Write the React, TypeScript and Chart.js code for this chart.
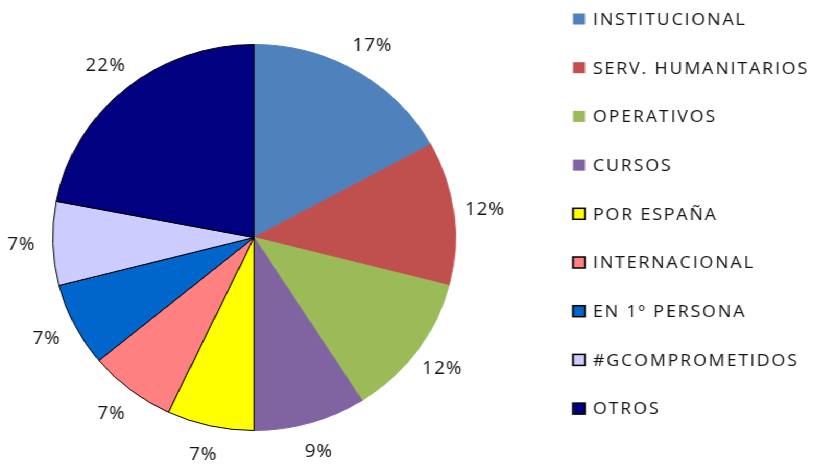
import React, { useEffect, useRef } from 'react';
import { Chart, registerables } from 'chart.js';

Chart.register(...registerables);

const categories = [
  'INSTITUCIONAL',
  'SERV. HUMANITARIOS',
  'OPERATIVOS',
  'CURSOS',
  'POR ESPAÑA',
  'INTERNACIONAL',
  'EN 1º PERSONA',
  '#GCOMPROMETIDOS',
  'OTROS',
];
const shares = [17, 12, 12, 9, 7, 7, 7, 7, 22];
const fillColors = ['#4F81BD', '#C0504D', '#9BBB59', '#8064A2', '#FFFF00', '#FF8080', '#0066CC', '#CCCCFF', '#000080'];
const edgeColors = ['#4F81BD', '#C0504D', '#9BBB59', '#8064A2', '#000000', '#000000', '#000000', '#000000', '#000000'];
const outlined = [false, false, false, false, true, true, true, true, true];

const STRETCH = 1.0437;
const W = 813 / STRETCH;
const H = 467;
const TEXT_COLOR = '#141414';

const LEGEND_BOX_X = 573 / STRETCH;
const LEGEND_TEXT_X = 593 / STRETCH;
const LEGEND_TOP = 19;
const LEGEND_STEP = 48.7;

const pctLabels = {
  id: 'pctLabels',
  afterDatasetsDraw(chart: any) {
    const meta = chart.getDatasetMeta(0);
    const data = chart.data.datasets[0].data as number[];
    const total = data.reduce((a, b) => a + b, 0);
    const ctx = chart.ctx as any;
    ctx.save();
    ctx.font = '18px "Open Sans"';
    ctx.fillStyle = TEXT_COLOR;
    ctx.textAlign = 'center';
    ctx.textBaseline = 'middle';
    ctx.letterSpacing = '1px';
    meta.data.forEach((arc: any, i: number) => {
      const p = arc.getProps(['x', 'y', 'startAngle', 'endAngle', 'outerRadius'], true);
      const mid = (p.startAngle + p.endAngle) / 2;
      const r = p.outerRadius + 30;
      ctx.fillText(Math.round((data[i] / total) * 100) + '%', p.x + Math.cos(mid) * r, p.y + Math.sin(mid) * r);
    });
    ctx.restore();
  },
};

const sideLegend = {
  id: 'sideLegend',
  afterDraw(chart: any) {
    const ctx = chart.ctx as any;
    const ds = chart.data.datasets[0];
    ctx.save();
    ctx.font = '17px "Open Sans"';
    ctx.letterSpacing = '1.8px';
    ctx.textAlign = 'left';
    ctx.textBaseline = 'middle';
    (chart.data.labels as string[]).forEach((lab, i) => {
      const cy = LEGEND_TOP + i * LEGEND_STEP;
      const bw = 12 / STRETCH;
      const bh = 11;
      ctx.fillStyle = ds.backgroundColor[i];
      ctx.fillRect(LEGEND_BOX_X, cy - bh / 2, bw, bh);
      if (outlined[i]) {
        ctx.strokeStyle = '#000';
        ctx.lineWidth = 1.5;
        ctx.strokeRect(LEGEND_BOX_X, cy - bh / 2, bw, bh);
      }
      ctx.fillStyle = TEXT_COLOR;
      ctx.fillText(lab, LEGEND_TEXT_X, cy + 1);
    });
    ctx.restore();
  },
};

export default function App() {
  const ref = useRef<HTMLCanvasElement | null>(null);
  useEffect(() => {
    if (!ref.current) return;
    const chart = new Chart(ref.current, {
      type: 'pie',
      data: {
        labels: categories,
        datasets: [
          {
            data: shares,
            backgroundColor: fillColors,
            borderColor: edgeColors,
            borderWidth: 1,
            radius: 193,
          } as any,
        ],
      },
      options: {
        responsive: true,
        maintainAspectRatio: false,
        animation: false,
        layout: { padding: { left: 40, right: W - 40 - 2 * (243.4 - 40), top: 20, bottom: 12 } },
        plugins: {
          legend: { display: false },
          tooltip: { enabled: false },
        },
      },
      plugins: [pctLabels, sideLegend],
    });
    return () => chart.destroy();
  }, []);
  return (
    <div
      style={{
        position: 'absolute',
        left: 0,
        top: 0,
        width: W,
        height: H,
        transform: `scaleX(${STRETCH})`,
        transformOrigin: '0 0',
        background: '#fff',
      }}
    >
      <canvas ref={ref} />
    </div>
  );
}
